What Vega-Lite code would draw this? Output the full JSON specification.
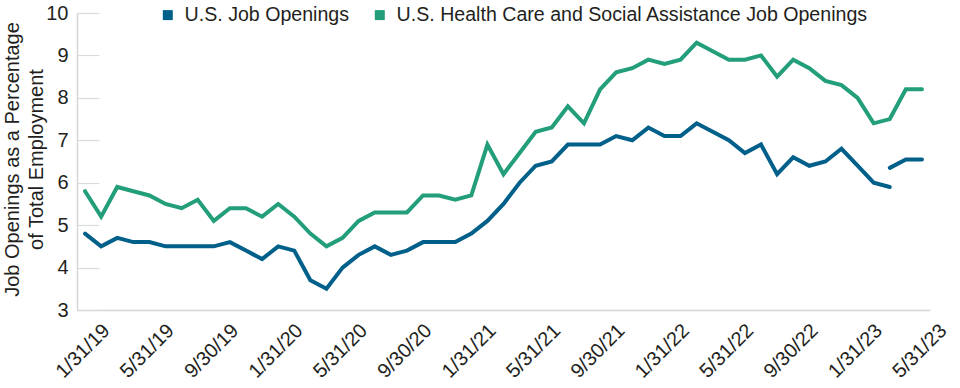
{
  "$schema": "https://vega.github.io/schema/vega-lite/v6.json",
  "width": 853,
  "height": 297,
  "autosize": {"type": "none"},
  "padding": {"left": 77, "top": 13, "right": 30, "bottom": 78},
  "background": "white",
  "config": {
    "font": "Liberation Sans",
    "view": {"stroke": null},
    "axis": {"labelColor": "#231f20", "titleColor": "#231f20", "grid": false}
  },
  "datasets": {
    "rows": [
      {"d":"1/31/19","s":"U.S. Job Openings","g":"a","v":4.8},
      {"d":"2/28/19","s":"U.S. Job Openings","g":"a","v":4.5},
      {"d":"3/31/19","s":"U.S. Job Openings","g":"a","v":4.7},
      {"d":"4/30/19","s":"U.S. Job Openings","g":"a","v":4.6},
      {"d":"5/31/19","s":"U.S. Job Openings","g":"a","v":4.6},
      {"d":"6/30/19","s":"U.S. Job Openings","g":"a","v":4.5},
      {"d":"7/31/19","s":"U.S. Job Openings","g":"a","v":4.5},
      {"d":"8/31/19","s":"U.S. Job Openings","g":"a","v":4.5},
      {"d":"9/30/19","s":"U.S. Job Openings","g":"a","v":4.5},
      {"d":"10/31/19","s":"U.S. Job Openings","g":"a","v":4.6},
      {"d":"11/30/19","s":"U.S. Job Openings","g":"a","v":4.4},
      {"d":"12/31/19","s":"U.S. Job Openings","g":"a","v":4.2},
      {"d":"1/31/20","s":"U.S. Job Openings","g":"a","v":4.5},
      {"d":"2/29/20","s":"U.S. Job Openings","g":"a","v":4.4},
      {"d":"3/31/20","s":"U.S. Job Openings","g":"a","v":3.7},
      {"d":"4/30/20","s":"U.S. Job Openings","g":"a","v":3.5},
      {"d":"5/31/20","s":"U.S. Job Openings","g":"a","v":4.0},
      {"d":"6/30/20","s":"U.S. Job Openings","g":"a","v":4.3},
      {"d":"7/31/20","s":"U.S. Job Openings","g":"a","v":4.5},
      {"d":"8/31/20","s":"U.S. Job Openings","g":"a","v":4.3},
      {"d":"9/30/20","s":"U.S. Job Openings","g":"a","v":4.4},
      {"d":"10/31/20","s":"U.S. Job Openings","g":"a","v":4.6},
      {"d":"11/30/20","s":"U.S. Job Openings","g":"a","v":4.6},
      {"d":"12/31/20","s":"U.S. Job Openings","g":"a","v":4.6},
      {"d":"1/31/21","s":"U.S. Job Openings","g":"a","v":4.8},
      {"d":"2/28/21","s":"U.S. Job Openings","g":"a","v":5.1},
      {"d":"3/31/21","s":"U.S. Job Openings","g":"a","v":5.5},
      {"d":"4/30/21","s":"U.S. Job Openings","g":"a","v":6.0},
      {"d":"5/31/21","s":"U.S. Job Openings","g":"a","v":6.4},
      {"d":"6/30/21","s":"U.S. Job Openings","g":"a","v":6.5},
      {"d":"7/31/21","s":"U.S. Job Openings","g":"a","v":6.9},
      {"d":"8/31/21","s":"U.S. Job Openings","g":"a","v":6.9},
      {"d":"9/30/21","s":"U.S. Job Openings","g":"a","v":6.9},
      {"d":"10/31/21","s":"U.S. Job Openings","g":"a","v":7.1},
      {"d":"11/30/21","s":"U.S. Job Openings","g":"a","v":7.0},
      {"d":"12/31/21","s":"U.S. Job Openings","g":"a","v":7.3},
      {"d":"1/31/22","s":"U.S. Job Openings","g":"a","v":7.1},
      {"d":"2/28/22","s":"U.S. Job Openings","g":"a","v":7.1},
      {"d":"3/31/22","s":"U.S. Job Openings","g":"a","v":7.4},
      {"d":"4/30/22","s":"U.S. Job Openings","g":"a","v":7.2},
      {"d":"5/31/22","s":"U.S. Job Openings","g":"a","v":7.0},
      {"d":"6/30/22","s":"U.S. Job Openings","g":"a","v":6.7},
      {"d":"7/31/22","s":"U.S. Job Openings","g":"a","v":6.9},
      {"d":"8/31/22","s":"U.S. Job Openings","g":"a","v":6.2},
      {"d":"9/30/22","s":"U.S. Job Openings","g":"a","v":6.6},
      {"d":"10/31/22","s":"U.S. Job Openings","g":"a","v":6.4},
      {"d":"11/30/22","s":"U.S. Job Openings","g":"a","v":6.5},
      {"d":"12/31/22","s":"U.S. Job Openings","g":"a","v":6.8},
      {"d":"1/31/23","s":"U.S. Job Openings","g":"a","v":6.4},
      {"d":"2/28/23","s":"U.S. Job Openings","g":"a","v":6.0},
      {"d":"3/31/23","s":"U.S. Job Openings","g":"a","v":5.9},
      {"d":"3/31/23","s":"U.S. Job Openings","g":"b","v":6.35},
      {"d":"4/30/23","s":"U.S. Job Openings","g":"b","v":6.55},
      {"d":"5/31/23","s":"U.S. Job Openings","g":"b","v":6.55},
      {"d":"1/31/19","s":"U.S. Health Care and Social Assistance Job Openings","g":"c","v":5.8},
      {"d":"2/28/19","s":"U.S. Health Care and Social Assistance Job Openings","g":"c","v":5.2},
      {"d":"3/31/19","s":"U.S. Health Care and Social Assistance Job Openings","g":"c","v":5.9},
      {"d":"4/30/19","s":"U.S. Health Care and Social Assistance Job Openings","g":"c","v":5.8},
      {"d":"5/31/19","s":"U.S. Health Care and Social Assistance Job Openings","g":"c","v":5.7},
      {"d":"6/30/19","s":"U.S. Health Care and Social Assistance Job Openings","g":"c","v":5.5},
      {"d":"7/31/19","s":"U.S. Health Care and Social Assistance Job Openings","g":"c","v":5.4},
      {"d":"8/31/19","s":"U.S. Health Care and Social Assistance Job Openings","g":"c","v":5.6},
      {"d":"9/30/19","s":"U.S. Health Care and Social Assistance Job Openings","g":"c","v":5.1},
      {"d":"10/31/19","s":"U.S. Health Care and Social Assistance Job Openings","g":"c","v":5.4},
      {"d":"11/30/19","s":"U.S. Health Care and Social Assistance Job Openings","g":"c","v":5.4},
      {"d":"12/31/19","s":"U.S. Health Care and Social Assistance Job Openings","g":"c","v":5.2},
      {"d":"1/31/20","s":"U.S. Health Care and Social Assistance Job Openings","g":"c","v":5.5},
      {"d":"2/29/20","s":"U.S. Health Care and Social Assistance Job Openings","g":"c","v":5.2},
      {"d":"3/31/20","s":"U.S. Health Care and Social Assistance Job Openings","g":"c","v":4.8},
      {"d":"4/30/20","s":"U.S. Health Care and Social Assistance Job Openings","g":"c","v":4.5},
      {"d":"5/31/20","s":"U.S. Health Care and Social Assistance Job Openings","g":"c","v":4.7},
      {"d":"6/30/20","s":"U.S. Health Care and Social Assistance Job Openings","g":"c","v":5.1},
      {"d":"7/31/20","s":"U.S. Health Care and Social Assistance Job Openings","g":"c","v":5.3},
      {"d":"8/31/20","s":"U.S. Health Care and Social Assistance Job Openings","g":"c","v":5.3},
      {"d":"9/30/20","s":"U.S. Health Care and Social Assistance Job Openings","g":"c","v":5.3},
      {"d":"10/31/20","s":"U.S. Health Care and Social Assistance Job Openings","g":"c","v":5.7},
      {"d":"11/30/20","s":"U.S. Health Care and Social Assistance Job Openings","g":"c","v":5.7},
      {"d":"12/31/20","s":"U.S. Health Care and Social Assistance Job Openings","g":"c","v":5.6},
      {"d":"1/31/21","s":"U.S. Health Care and Social Assistance Job Openings","g":"c","v":5.7},
      {"d":"2/28/21","s":"U.S. Health Care and Social Assistance Job Openings","g":"c","v":6.9},
      {"d":"3/31/21","s":"U.S. Health Care and Social Assistance Job Openings","g":"c","v":6.2},
      {"d":"4/30/21","s":"U.S. Health Care and Social Assistance Job Openings","g":"c","v":6.7},
      {"d":"5/31/21","s":"U.S. Health Care and Social Assistance Job Openings","g":"c","v":7.2},
      {"d":"6/30/21","s":"U.S. Health Care and Social Assistance Job Openings","g":"c","v":7.3},
      {"d":"7/31/21","s":"U.S. Health Care and Social Assistance Job Openings","g":"c","v":7.8},
      {"d":"8/31/21","s":"U.S. Health Care and Social Assistance Job Openings","g":"c","v":7.4},
      {"d":"9/30/21","s":"U.S. Health Care and Social Assistance Job Openings","g":"c","v":8.2},
      {"d":"10/31/21","s":"U.S. Health Care and Social Assistance Job Openings","g":"c","v":8.6},
      {"d":"11/30/21","s":"U.S. Health Care and Social Assistance Job Openings","g":"c","v":8.7},
      {"d":"12/31/21","s":"U.S. Health Care and Social Assistance Job Openings","g":"c","v":8.9},
      {"d":"1/31/22","s":"U.S. Health Care and Social Assistance Job Openings","g":"c","v":8.8},
      {"d":"2/28/22","s":"U.S. Health Care and Social Assistance Job Openings","g":"c","v":8.9},
      {"d":"3/31/22","s":"U.S. Health Care and Social Assistance Job Openings","g":"c","v":9.3},
      {"d":"4/30/22","s":"U.S. Health Care and Social Assistance Job Openings","g":"c","v":9.1},
      {"d":"5/31/22","s":"U.S. Health Care and Social Assistance Job Openings","g":"c","v":8.9},
      {"d":"6/30/22","s":"U.S. Health Care and Social Assistance Job Openings","g":"c","v":8.9},
      {"d":"7/31/22","s":"U.S. Health Care and Social Assistance Job Openings","g":"c","v":9.0},
      {"d":"8/31/22","s":"U.S. Health Care and Social Assistance Job Openings","g":"c","v":8.5},
      {"d":"9/30/22","s":"U.S. Health Care and Social Assistance Job Openings","g":"c","v":8.9},
      {"d":"10/31/22","s":"U.S. Health Care and Social Assistance Job Openings","g":"c","v":8.7},
      {"d":"11/30/22","s":"U.S. Health Care and Social Assistance Job Openings","g":"c","v":8.4},
      {"d":"12/31/22","s":"U.S. Health Care and Social Assistance Job Openings","g":"c","v":8.3},
      {"d":"1/31/23","s":"U.S. Health Care and Social Assistance Job Openings","g":"c","v":8.0},
      {"d":"2/28/23","s":"U.S. Health Care and Social Assistance Job Openings","g":"c","v":7.4},
      {"d":"3/31/23","s":"U.S. Health Care and Social Assistance Job Openings","g":"c","v":7.5},
      {"d":"4/30/23","s":"U.S. Health Care and Social Assistance Job Openings","g":"c","v":8.2},
      {"d":"5/31/23","s":"U.S. Health Care and Social Assistance Job Openings","g":"c","v":8.2}
    ]
  },
  "data": {"name": "rows"},
  "mark": {"type": "line", "strokeWidth": 4, "strokeCap": "round"},
  "encoding": {
    "x": {
      "field": "d",
      "type": "ordinal",
      "sort": null,
      "scale": {"type": "point", "padding": 0.5},
      "axis": {
        "title": null,
        "values": ["1/31/19","5/31/19","9/30/19","1/31/20","5/31/20","9/30/20","1/31/21","5/31/21","9/30/21","1/31/22","5/31/22","9/30/22","1/31/23","5/31/23"],
        "labelAngle": -45,
        "labelAlign": "right",
        "labelBaseline": "top",
        "labelFontSize": 20,
        "labelOffset": 14,
        "labelPadding": 10,
        "ticks": false,
        "domainColor": "#d3d6d6",
        "domainWidth": 1.5
      }
    },
    "y": {
      "field": "v",
      "type": "quantitative",
      "scale": {"domain": [3, 10], "nice": false, "zero": false},
      "axis": {
        "values": [3, 4, 5, 6, 7, 8, 9, 10],
        "title": ["Job Openings as a Percentage", "of Total Employment"],
        "titleFontSize": 20,
        "titleFontWeight": "normal",
        "titleLineHeight": 24,
        "titleX": -59,
        "titleY": 146,
        "titleAlign": "center",
        "titleBaseline": "alphabetic",
        "labelFontSize": 20,
        "tickSize": -22,
        "tickColor": "#d9dcdc",
        "tickWidth": 1.2,
        "labelPadding": 31,
        "domainColor": "#d3d6d6",
        "domainWidth": 1.5
      }
    },
    "color": {
      "field": "s",
      "type": "nominal",
      "scale": {
        "domain": ["U.S. Job Openings", "U.S. Health Care and Social Assistance Job Openings"],
        "range": ["#00608a", "#229e7a"]
      },
      "legend": {
        "title": null,
        "orient": "none",
        "direction": "horizontal",
        "legendX": 81,
        "legendY": -8,
        "symbolType": "square",
        "symbolSize": 100,
        "symbolStrokeWidth": 0,
        "labelFontSize": 19.6,
        "labelColor": "#231f20",
        "labelOffset": 7,
        "columnPadding": 20,
        "labelLimit": 600,
        "encode": {
          "symbols": {"update": {"fill": {"scale": "color", "field": "value"}, "strokeWidth": {"value": 0}}}
        }
      }
    },
    "detail": {"field": "g", "type": "nominal"}
  }
}
